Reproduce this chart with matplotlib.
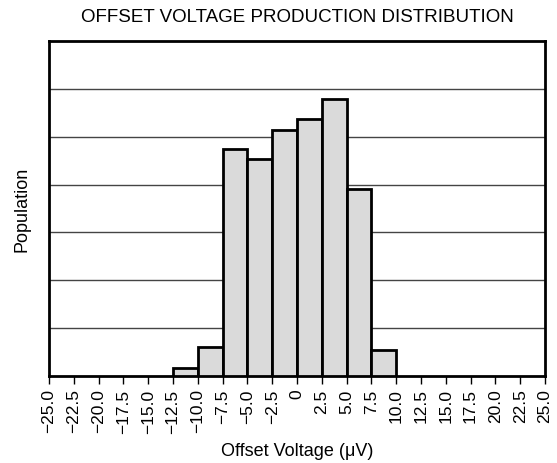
import matplotlib
matplotlib.use("Agg")
import matplotlib.pyplot as plt
import numpy as np

plt.rcParams['font.family'] = ['Liberation Sans', 'DejaVu Sans']

# bin left edges (uV) and bar heights (in grid units)
bin_left = [-12.5, -10.0, -7.5, -5.0, -2.5, 0.0, 2.5, 5.0, 7.5]
counts = [0.17, 0.6, 4.74, 4.54, 5.14, 5.38, 5.78, 3.9, 0.55]
bin_width = 2.5

tick_vals = np.arange(-25, 25.1, 2.5)
tick_labels = ['0' if v == 0 else ('%.1f' % v).replace('-', '\u2212') for v in tick_vals]

fig = plt.figure(figsize=(5.57, 4.64), dpi=100)
ax = fig.add_axes([0.088, 0.1875, 0.8905, 0.722])

ax.bar(bin_left, counts, width=bin_width, align='edge', color='#dadada',
       edgecolor='black', linewidth=2, zorder=3)

ax.set_xlim(-25, 25)
ax.set_ylim(0, 7)
ax.set_yticks(np.arange(1, 7))
ax.yaxis.grid(True, color='#444444', linewidth=1, zorder=0)
ax.tick_params(axis='y', left=False, labelleft=False)

ax.set_xticks(tick_vals)
ax.set_xticklabels(tick_labels, rotation=90, fontsize=12.5)
ax.tick_params(axis='x', direction='out', length=6, width=1, pad=3)

for s in ax.spines.values():
    s.set_linewidth(2)

ax.set_xlabel('Offset Voltage (\u03bcV)', fontsize=13, labelpad=7)
ax.set_ylabel('Population', fontsize=13, labelpad=13)
fig.text(0.533, 0.963, 'OFFSET VOLTAGE PRODUCTION DISTRIBUTION', ha='center',
         va='center', fontsize=13.5)

fig.savefig('out.png', dpi=100)
